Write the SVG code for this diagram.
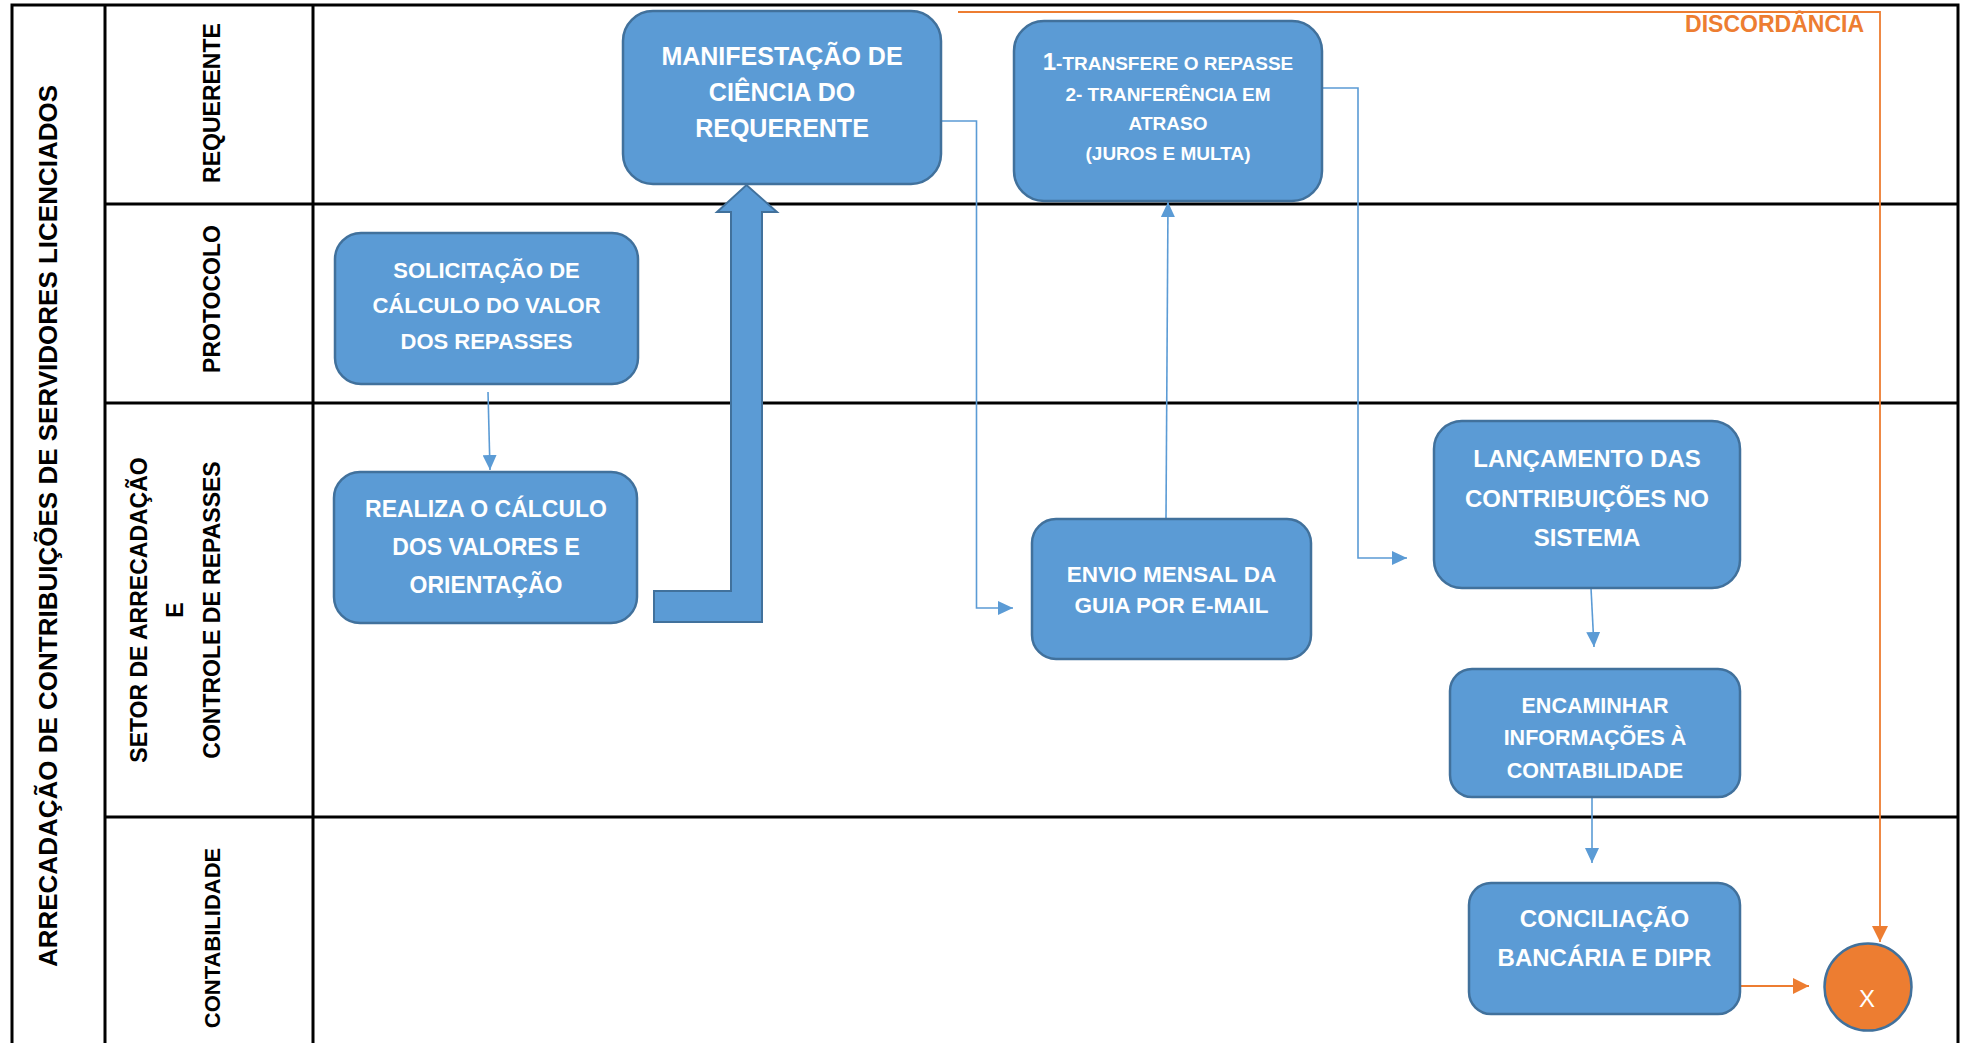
<svg xmlns="http://www.w3.org/2000/svg" width="1966" height="1043" viewBox="0 0 1966 1043">
<style>
.grid{stroke:#000;stroke-width:3;fill:none}
.box{fill:#5B9BD5;stroke:#41719C;stroke-width:2.5}
.t{font-family:"Liberation Sans",Arial,sans-serif;font-weight:bold;fill:#fff;text-anchor:middle}
.lab{font-family:"Liberation Sans",Arial,sans-serif;font-weight:bold;fill:#000;text-anchor:middle}
.cb{stroke:#5B9BD5;stroke-width:1.6;fill:none}
.co{stroke:#ED7D31;stroke-width:1.8;fill:none}
</style>
<defs>
<marker id="ab" markerUnits="userSpaceOnUse" markerWidth="16" markerHeight="14" refX="15" refY="7" orient="auto"><path d="M0,0 L15,7 L0,14 z" fill="#5B9BD5"/></marker>
<marker id="ao" markerUnits="userSpaceOnUse" markerWidth="17" markerHeight="16" refX="16" refY="8" orient="auto"><path d="M0,0 L16,8 L0,16 z" fill="#ED7D31"/></marker>
</defs>
<rect width="1966" height="1043" fill="#fff"/>
<g id="table">
<path class="grid" d="M12,1043 V5 H1958 V1043 M105,5 V1043 M313,5 V1043 M105,204 H1958 M105,403 H1958 M105,817 H1958"/>
<text class="lab" font-size="26" transform="translate(57,526) rotate(-90)">ARRECADAÇÃO DE CONTRIBUIÇÕES DE SERVIDORES LICENCIADOS</text>
<text class="lab" font-size="23" transform="translate(220,103) rotate(-90)">REQUERENTE</text>
<text class="lab" font-size="23" transform="translate(220,299) rotate(-90)">PROTOCOLO</text>
<text class="lab" font-size="23" transform="translate(147,610) rotate(-90)">SETOR DE ARRECADAÇÃO</text>
<text class="lab" font-size="23" transform="translate(183,610) rotate(-90)">E</text>
<text class="lab" font-size="23" transform="translate(220,610) rotate(-90)">CONTROLE DE REPASSES</text>
<text class="lab" font-size="22" transform="translate(220,938) rotate(-90)">CONTABILIDADE</text>
</g>
<g id="connectors">
<path class="cb" d="M488,392 L490,470" marker-end="url(#ab)"/>
<path class="cb" d="M941,121 H976.5 V608 H1013" marker-end="url(#ab)"/>
<path class="cb" d="M1166,519 L1168,202" marker-end="url(#ab)"/>
<path class="cb" d="M1322,88 H1358 V558 H1407" marker-end="url(#ab)"/>
<path class="cb" d="M1591,588 L1594,647" marker-end="url(#ab)"/>
<path class="cb" d="M1592,797 V863" marker-end="url(#ab)"/>
<path class="co" d="M1740,986 H1809" marker-end="url(#ao)"/>
<path class="co" d="M958,12 H1880 V942" marker-end="url(#ao)"/>
<polygon points="654,591 731,591 731,212 717,212 746.5,185 777,212 762,212 762,622 654,622" fill="#5B9BD5" stroke="#41719C" stroke-width="2"/>
<text font-family="Liberation Sans,Arial,sans-serif" font-weight="bold" font-size="23" fill="#ED7D31" text-anchor="end" x="1864" y="32">DISCORDÂNCIA</text>
</g>
<g id="n-manifestacao">
<rect class="box" x="623" y="11" width="318" height="173" rx="30"/>
<text class="t" font-size="25" x="782" y="65">MANIFESTAÇÃO DE</text>
<text class="t" font-size="25" x="782" y="101">CIÊNCIA DO</text>
<text class="t" font-size="25" x="782" y="137">REQUERENTE</text>
</g>
<g id="n-transfere">
<rect class="box" x="1014" y="21" width="308" height="180" rx="30"/>
<text class="t" font-size="19" x="1168" y="70"><tspan font-size="24">1</tspan>-TRANSFERE O REPASSE</text>
<text class="t" font-size="19" x="1168" y="101">2- TRANFERÊNCIA EM</text>
<text class="t" font-size="19" x="1168" y="130">ATRASO</text>
<text class="t" font-size="19" x="1168" y="160">(JUROS E MULTA)</text>
</g>
<g id="n-solicitacao">
<rect class="box" x="335" y="233" width="303" height="151" rx="26"/>
<text class="t" font-size="22" x="486.5" y="278">SOLICITAÇÃO DE</text>
<text class="t" font-size="22" x="486.5" y="313">CÁLCULO DO VALOR</text>
<text class="t" font-size="22" x="486.5" y="349">DOS REPASSES</text>
</g>
<g id="n-realiza">
<rect class="box" x="334" y="472" width="303" height="151" rx="26"/>
<text class="t" font-size="23" x="486" y="517">REALIZA O CÁLCULO</text>
<text class="t" font-size="23" x="486" y="555">DOS VALORES E</text>
<text class="t" font-size="23" x="486" y="593">ORIENTAÇÃO</text>
</g>
<g id="n-envio">
<rect class="box" x="1032" y="519" width="279" height="140" rx="24"/>
<text class="t" font-size="22.5" x="1171.5" y="582">ENVIO MENSAL DA</text>
<text class="t" font-size="22.5" x="1171.5" y="613">GUIA POR E-MAIL</text>
</g>
<g id="n-lancamento">
<rect class="box" x="1434" y="421" width="306" height="167" rx="28"/>
<text class="t" font-size="24" x="1587" y="467">LANÇAMENTO DAS</text>
<text class="t" font-size="24" x="1587" y="507">CONTRIBUIÇÕES NO</text>
<text class="t" font-size="24" x="1587" y="546">SISTEMA</text>
</g>
<g id="n-encaminhar">
<rect class="box" x="1450" y="669" width="290" height="128" rx="22"/>
<text class="t" font-size="21.5" x="1595" y="713">ENCAMINHAR</text>
<text class="t" font-size="21.5" x="1595" y="745">INFORMAÇÕES À</text>
<text class="t" font-size="21.5" x="1595" y="778">CONTABILIDADE</text>
</g>
<g id="n-conciliacao">
<rect class="box" x="1469" y="883" width="271" height="131" rx="22"/>
<text class="t" font-size="24" x="1604.5" y="927">CONCILIAÇÃO</text>
<text class="t" font-size="24" x="1604.5" y="966">BANCÁRIA E DIPR</text>
</g>
<g id="n-fim">
<circle cx="1868" cy="987" r="43.5" fill="#ED7D31" stroke="#41719C" stroke-width="2.5"/>
<text font-family="Liberation Sans,Arial,sans-serif" font-size="24" fill="#fff" text-anchor="middle" x="1867" y="1007">X</text>
</g>
</svg>
